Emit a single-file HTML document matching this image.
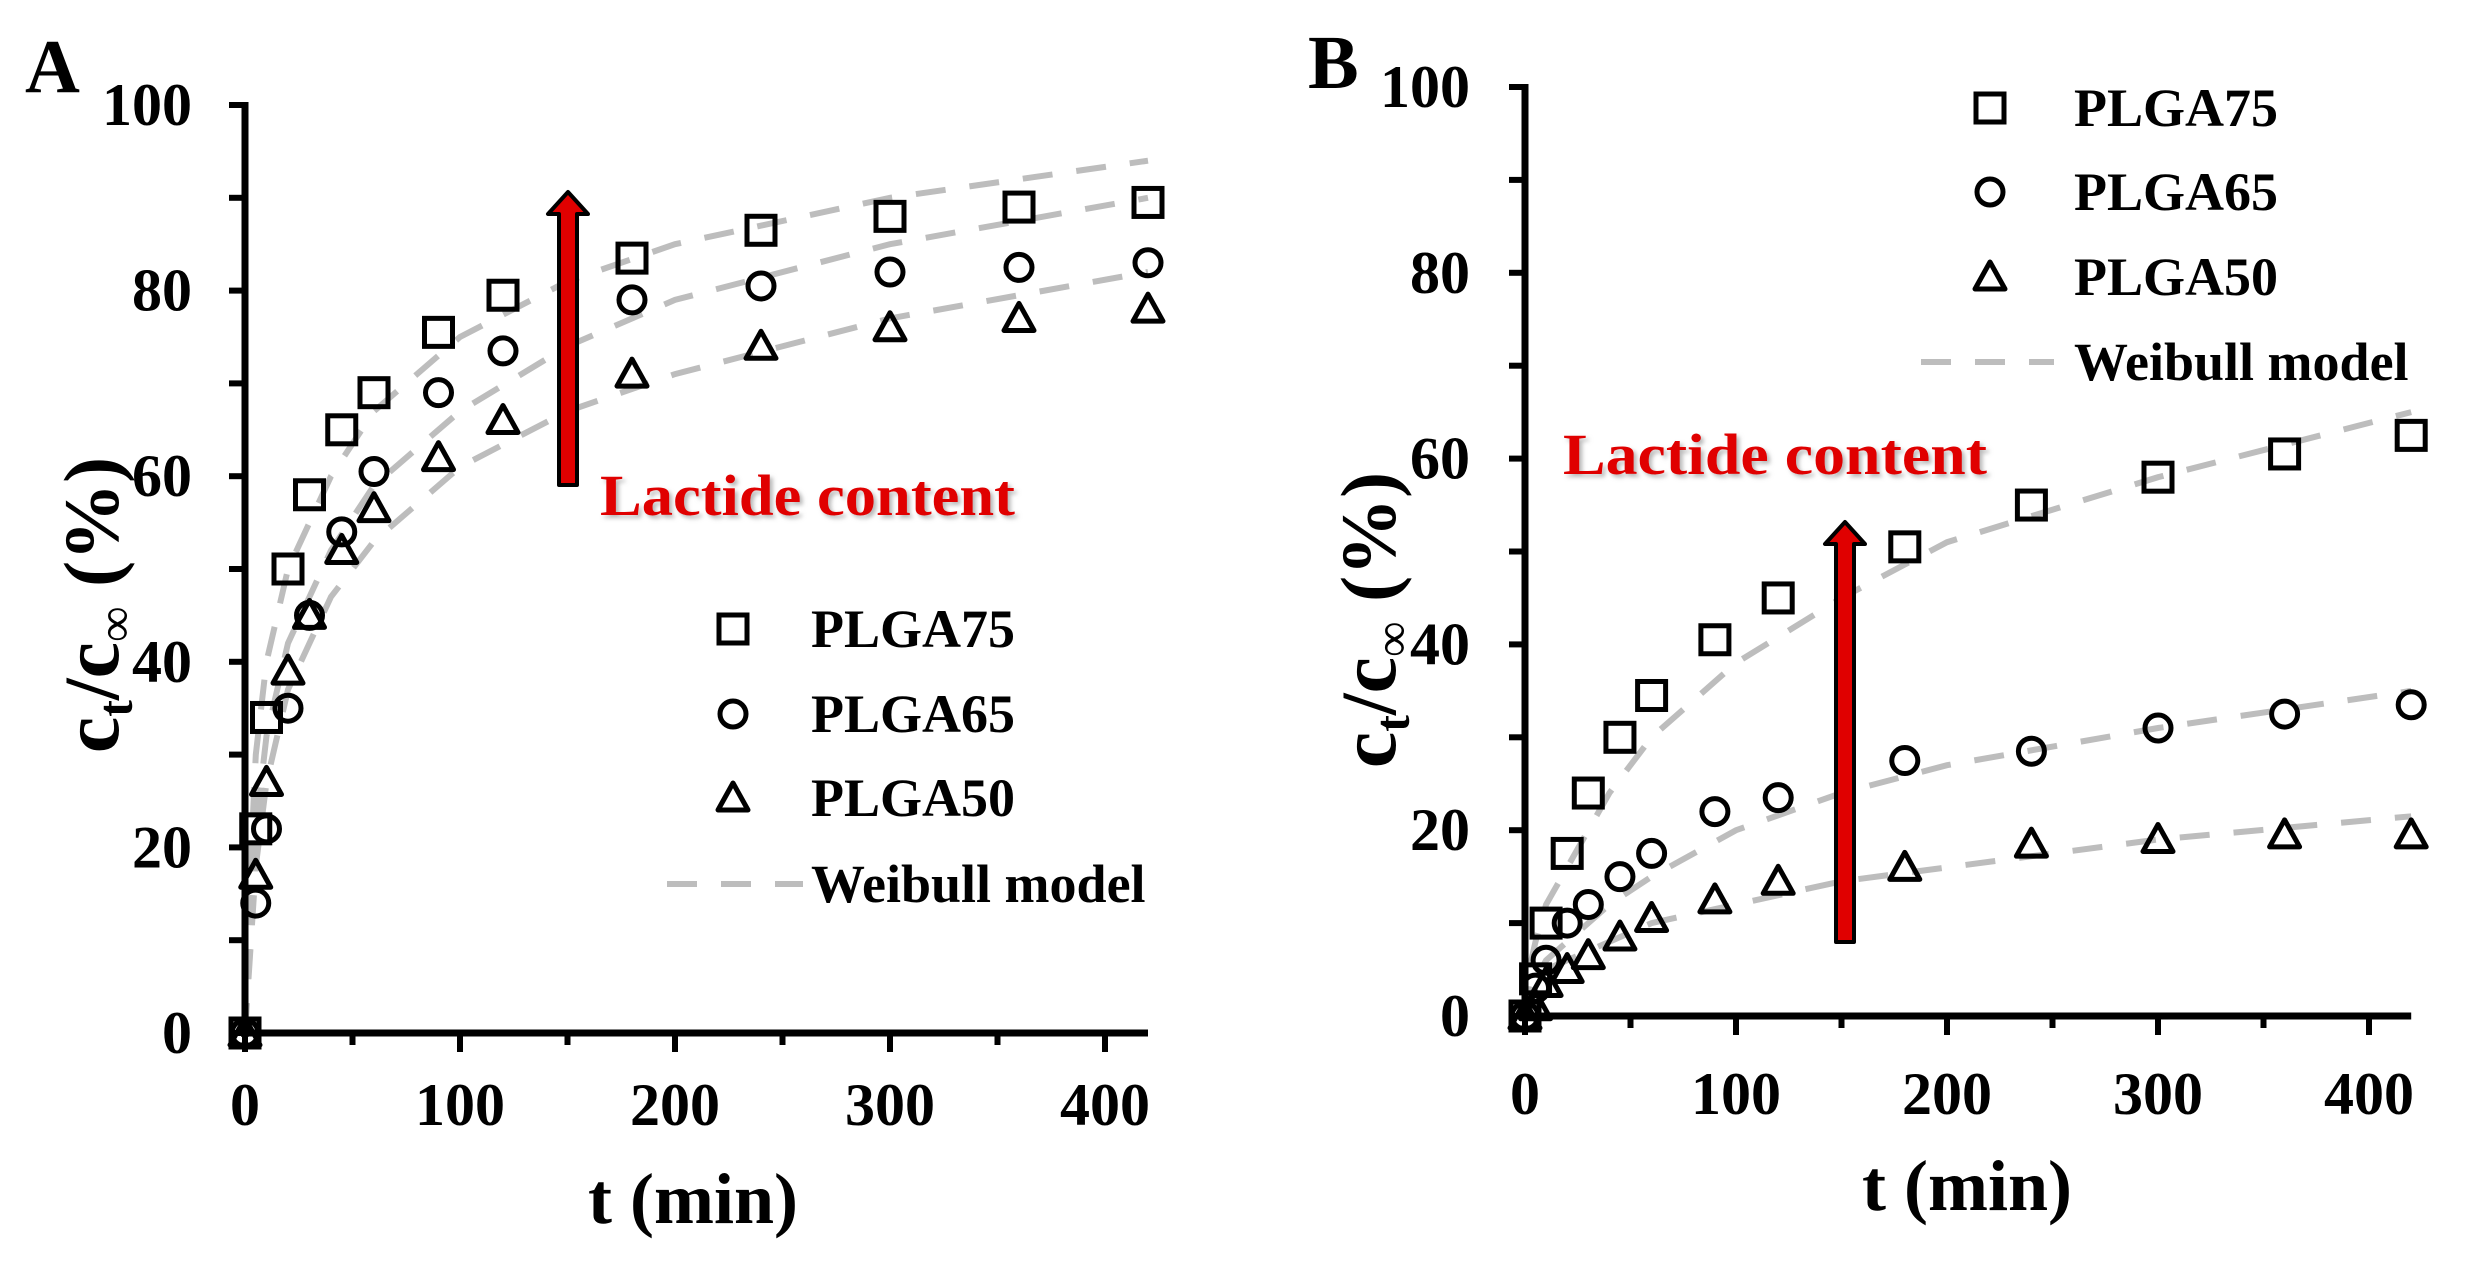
<!DOCTYPE html>
<html><head><meta charset="utf-8"><style>
html,body{margin:0;padding:0;background:#fff;}
svg{display:block;font-family:"Liberation Serif",serif;font-weight:bold;}
</style></head><body>
<svg id="s" width="2477" height="1267" viewBox="0 0 2477 1267" xmlns="http://www.w3.org/2000/svg">
<defs><filter id="sh" x="-10%" y="-10%" width="130%" height="140%"><feDropShadow dx="3" dy="3" stdDeviation="2" flood-color="#888" flood-opacity="0.6"/></filter></defs>
<text x="25" y="92" font-size="76">A</text>
<text x="1308" y="88" font-size="76">B</text>
</svg>
<script>
var S=document.getElementById('s'),NS='http://www.w3.org/2000/svg';
function el(t,a,txt){var e=document.createElementNS(NS,t);for(var k in a)e.setAttribute(k,a[k]);if(txt!=null)e.textContent=txt;S.appendChild(e);return e;}
var T=[0,5,10,20,30,45,60,90,120,180,240,300,360,420];
function panel(P){
 var X=function(t){return P.x0+t*P.px/100;},Y=function(v){return P.y0-v*P.py/100;};
 P.w.forEach(function(c){var pts=c.map(function(p){return X(p[0]).toFixed(1)+','+Y(p[1]).toFixed(1);}).join(' ');
  el('polyline',{points:pts,fill:'none',stroke:'#bdbdbd','stroke-width':6,'stroke-dasharray':'30 24'});});
 el('line',{x1:P.x0,y1:Y(100)-3,x2:P.x0,y2:P.y0+4,stroke:'#000','stroke-width':7});
 el('line',{x1:P.x0-4,y1:P.y0,x2:X(420),y2:P.y0,stroke:'#000','stroke-width':7});
 for(var v=0;v<=100;v+=10){el('line',{x1:P.x0-16,y1:Y(v),x2:P.x0,y2:Y(v),stroke:'#000','stroke-width':6});
  if(v%20==0)el('text',{x:P.tx,y:Y(v)+20,'font-size':60,'text-anchor':'end'},v);}
 for(var t=0;t<=400;t+=50){el('line',{x1:X(t),y1:P.y0,x2:X(t),y2:P.y0+(t%100?12:19),stroke:'#000','stroke-width':6});
  if(t%100==0)el('text',{x:X(t),y:P.ly,'font-size':60,'text-anchor':'middle'},t);}
 el('text',{x:P.xt,y:P.xty,'font-size':72,'text-anchor':'middle'},'t (min)');
 var g=el('text',{transform:'translate('+P.ylx+','+P.yly+') rotate(-90)','font-size':78,'text-anchor':'middle'});
 g.innerHTML='<tspan font-size="82">c</tspan><tspan font-size="50" dy="14">t</tspan><tspan dy="-14">/</tspan><tspan font-size="82">c</tspan><tspan font-size="50" dy="14" font-weight="normal">∞</tspan><tspan dy="-14"> (%)</tspan>';
 function mk(kind,x,y){if(kind==0)el('rect',{x:x-14,y:y-14,width:28,height:28,fill:'none',stroke:'#000','stroke-width':5});
  else if(kind==1)el('circle',{cx:x,cy:y,r:13,fill:'none',stroke:'#000','stroke-width':5});
  else el('polygon',{points:(x-15)+','+(y+12)+' '+(x+15)+','+(y+12)+' '+x+','+(y-15),fill:'none',stroke:'#000','stroke-width':5,'stroke-linejoin':'round'});}
 P.d.forEach(function(s,k){s.forEach(function(v,i){mk(k,X(T[i]),Y(v));});});
 var ax=P.ax;el('polygon',{points:(ax-9)+','+P.ab+' '+(ax+9)+','+P.ab+' '+(ax+9)+','+(P.at+22)+' '+(ax+20)+','+(P.at+22)+' '+ax+','+P.at+' '+(ax-20)+','+(P.at+22)+' '+(ax-9)+','+(P.at+22),fill:'#e00000',stroke:'#000','stroke-width':4,'stroke-linejoin':'round'});
 el('text',{x:P.lx,y:P.lyy,'font-size':58,fill:'#e00000',textLength:P.lw,lengthAdjust:'spacingAndGlyphs',filter:'url(#sh)'},'Lactide content');
 var names=['PLGA75','PLGA65','PLGA50'];
 for(var k=0;k<3;k++){mk(k,P.gm,P.gb[k]-18);el('text',{x:P.gt,y:P.gb[k],'font-size':54},names[k]);}
 el('line',{x1:P.gd[0],y1:P.gb[3]-18,x2:P.gd[1],y2:P.gb[3]-18,stroke:'#bdbdbd','stroke-width':6,'stroke-dasharray':'30 24'});
 el('text',{x:P.gt,y:P.gb[3],'font-size':54},'Weibull model');
}
panel({x0:245,px:215,y0:1033,py:928,tx:192,ly:1125,xt:693,xty:1223,ylx:118,yly:605,
 d:[[0,22,34,50,58,65,69,75.5,79.5,83.5,86.5,88,89,89.5],[0,14,22,35,45,54,60.5,69,73.5,79,80.5,82,82.5,83],[0,17,27,39,45,52,56.5,62,66,71,74,76,77,78]],
 w:[[[0,0],[2,15],[5,30],[10,40],[20,50],[40,60],[60,67],[100,75],[150,81],[200,85],[300,90],[420,94]],
    [[0,0],[5,22],[10,32],[20,42],[40,52],[60,59],[100,67],[150,74],[200,79],[300,85],[420,90]],
    [[0,0],[5,18],[10,27],[20,37],[40,47],[60,53],[100,61],[150,67],[200,71],[300,77],[420,82]]],
 ax:568,at:192,ab:485,lx:600,lyy:515,lw:415,gm:733,gt:811,gb:[647,732,816,902],gd:[667,803]});
panel({x0:1525,px:211,y0:1016,py:929,tx:1470,ly:1114,xt:1967,xty:1210,ylx:1395,yly:620,
 d:[[0,4,10,17.5,24,30,34.5,40.5,45,50.5,55,58,60.5,62.5],[0,3,6,10,12,15,17.5,22,23.5,27.5,28.5,31,32.5,33.5],[0,1,3.5,5,6.5,8.5,10.5,12.5,14.5,16,18.5,19,19.5,19.5]],
 w:[[[0,0],[3,6],[5,8],[10,12],[20,16],[40,24],[60,30],[100,38],[150,45],[200,51],[300,58],[420,65]],
    [[0,0],[5,4],[10,6],[20,8],[40,12],[60,15],[100,20],[150,24],[200,27],[300,31],[420,35]],
    [[0,0],[5,3],[10,5],[20,6],[40,8],[60,10],[100,12],[150,14.5],[200,16],[300,19],[420,21.5]]],
 ax:1845,at:522,ab:942,lx:1563,lyy:474,lw:424,gm:1990,gt:2074,gb:[126,210,295,380],gd:[1921,2054]});
</script>
</body></html>
